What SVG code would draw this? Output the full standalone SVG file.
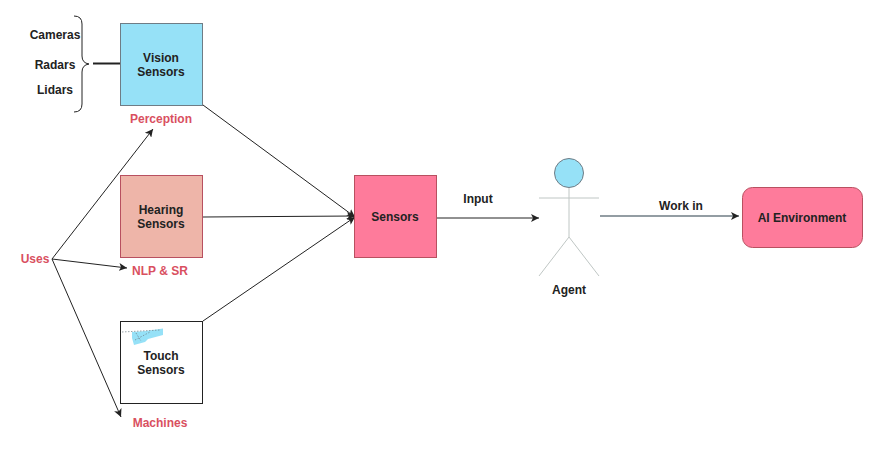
<svg xmlns="http://www.w3.org/2000/svg" width="875" height="453" viewBox="0 0 875 453">
<style>
text{font-family:"Liberation Sans",Arial,sans-serif;font-size:12px;font-weight:bold;fill:#222;text-anchor:middle}
text.r{fill:#d9505f}
.c{fill:none;stroke:#222;stroke-width:1}
.a{marker-end:url(#ah)}
</style>
<defs>
<marker id="ah" markerUnits="userSpaceOnUse" markerWidth="10" markerHeight="8" refX="8" refY="4" orient="auto"><path d="M0 0L8 4L0 8L2 4Z" fill="#222"/></marker>
</defs>
<rect width="875" height="453" fill="#fff"/>
<g id="connectors">
<path class="c a" d="M203 105L355 217"/>
<path class="c a" d="M203 217L355 216"/>
<path class="c a" d="M203 321L355 217"/>
<path class="c a" d="M437 218L539 218"/>
<path class="c a" d="M600 216H739" style="stroke:#6f7c85;stroke-width:1.5"/>
<path class="c a" d="M52 259L153 129"/>
<path class="c a" d="M52 259L127 268"/>
<path class="c a" d="M52 259L121 417"/>
<path class="c" d="M93 63.500H120" style="stroke-width:2"/>
<path class="c" d="M74 16Q82 16 82 24V56Q82 63 89 64Q82 65 82 72V104Q82 112 74 112"/>
</g>
<g id="cameras"><text x="55" y="39">Cameras</text></g>
<g id="radars"><text x="55" y="69">Radars</text></g>
<g id="lidars"><text x="55" y="94">Lidars</text></g>
<g id="vision"><rect x="120.500" y="23.500" width="82" height="82" fill="#96e1f7" stroke="#6f7c85"/><text x="161" y="62">Vision</text><text x="161" y="76">Sensors</text></g>
<g id="perception"><text class="r" x="161" y="123">Perception</text></g>
<g id="hearing"><rect x="120.500" y="175.500" width="82" height="82" fill="#eeb5a9" stroke="#b85060"/><text x="161" y="214">Hearing</text><text x="161" y="228">Sensors</text></g>
<g id="nlp"><text class="r" x="160" y="275">NLP &amp; SR</text></g>
<g id="touch"><rect x="120.500" y="321.500" width="82" height="82" fill="#fff" stroke="#222"/>
<path d="M132 332L146 331L163 328.500L163 335L148 339L145 342L134 345L132 338Z" fill="#96e1f7"/>
<path d="M122 332L160 330M135 340L150 332M136 333L141 341" fill="none" stroke="#6f7c85" stroke-width=".7" stroke-dasharray="1.500 1.500"/>
<text x="161" y="360">Touch</text><text x="161" y="374">Sensors</text></g>
<g id="machines"><text class="r" x="160" y="427">Machines</text></g>
<g id="uses"><text class="r" x="35" y="263">Uses</text></g>
<g id="sensors"><rect x="354.500" y="175.500" width="82" height="82" fill="#fe7b9b" stroke="#b85060"/><text x="395" y="221">Sensors</text></g>
<g id="input"><text x="478" y="203">Input</text></g>
<g id="agent">
<circle cx="569" cy="173" r="14.500" fill="#96e1f7" stroke="#6f7c85"/>
<path d="M569 188V237M539 198H599M569 237L539 276M569 237L599 276" fill="none" stroke="#bfc6c4" stroke-width="1"/>
<text x="569" y="294">Agent</text></g>
<g id="workin"><text x="681" y="210">Work in</text></g>
<g id="aienv"><rect x="742.500" y="187.500" width="120" height="60" rx="10" fill="#fe7b9b" stroke="#b85060"/><text x="802" y="222">AI Environment</text></g>
</svg>
